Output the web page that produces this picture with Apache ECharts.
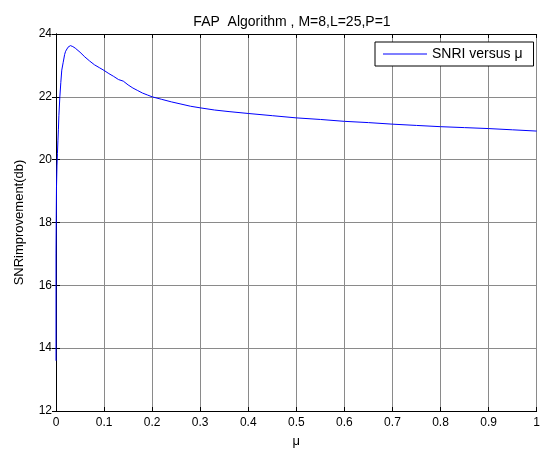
<!DOCTYPE html>
<html>
<head>
<meta charset="utf-8">
<script src="https://cdn.jsdelivr.net/npm/echarts@6/dist/echarts.min.js"></script>
<style>
  html, body { margin: 0; padding: 0; background: #fff; }
  #chart { width: 543px; height: 453px; }
</style>
</head>
<body>
<div id="chart"></div>
<script>
// Step size mu and the resulting SNR improvement (dB)
const mu = [0, 0, 0.0005, 0.001, 0.002, 0.003, 0.004, 0.005, 0.006, 0.008, 0.010, 0.012,
  0.015, 0.018, 0.020, 0.025, 0.030, 0.035, 0.040, 0.050, 0.060, 0.070, 0.080, 0.090,
  0.100, 0.110, 0.120, 0.130, 0.140, 0.150, 0.160, 0.170, 0.180, 0.190, 0.200, 0.220,
  0.240, 0.260, 0.280, 0.300, 0.330, 0.360, 0.400, 0.450, 0.500, 0.550, 0.600, 0.650,
  0.700, 0.750, 0.800, 0.850, 0.900, 0.950, 1.000];
const snri = [13.6, 17.0, 18.2, 19.1, 19.8, 20.2, 20.6, 20.95, 21.4, 22.0, 22.45, 22.85,
  23.1, 23.35, 23.45, 23.58, 23.63, 23.6, 23.55, 23.42, 23.27, 23.14, 23.02, 22.93,
  22.84, 22.74, 22.65, 22.55, 22.5, 22.38, 22.28, 22.2, 22.12, 22.06, 22.0, 21.92,
  21.84, 21.77, 21.7, 21.65, 21.58, 21.53, 21.47, 21.4, 21.33, 21.28, 21.22, 21.18,
  21.13, 21.09, 21.05, 21.02, 20.99, 20.95, 20.91];
const xTicks = ['0', '0.1', '0.2', '0.3', '0.4', '0.5', '0.6', '0.7', '0.8', '0.9', '1'];
const yTicks = [12, 14, 16, 18, 20, 22, 24];

const font = 'Liberation Sans, Arial, sans-serif';
const points = mu.map((m, i) => [m, snri[i]]);

const chart = echarts.init(document.getElementById('chart'), null, { renderer: 'canvas' });

// Mirrored axes on the top and right close the box and carry inward ticks
const boxAxis = {
  axisLine: { show: true, lineStyle: { color: '#000', width: 1 } },
  axisTick: { show: true, inside: true, length: 4, lineStyle: { color: '#000' } },
  axisLabel: { show: false },
  splitLine: { show: false }
};

chart.setOption({
  animation: false,
  backgroundColor: '#fff',
  title: {
    text: 'FAP  Algorithm , M=8,L=25,P=1',
    left: 287, top: 10, textAlign: 'center',
    textStyle: { fontFamily: font, fontSize: 14, fontWeight: 'normal', color: '#000' }
  },
  grid: { left: 56, right: 6, top: 34, bottom: 42, containLabel: false },
  legend: {
    left: 375, top: 42,
    padding: [5, 11, 5, 8],
    backgroundColor: '#fff',
    borderColor: '#000', borderWidth: 1, borderRadius: 0,
    icon: 'rect', itemWidth: 44, itemHeight: 1,
    textStyle: { fontFamily: font, fontSize: 14, color: '#000' },
    data: ['SNRI versus \u03bc']
  },
  xAxis: [{
    type: 'value', min: 0, max: 1, interval: 0.1,
    name: '\u03bc', nameLocation: 'middle', nameGap: 24,
    nameTextStyle: { fontFamily: font, fontSize: 13, color: '#000' },
    axisLine: { show: true, onZero: false, lineStyle: { color: '#000', width: 1 } },
    axisTick: { show: true, inside: true, length: 4, lineStyle: { color: '#000' } },
    axisLabel: {
      fontFamily: font, fontSize: 12, color: '#000', margin: 6,
      formatter: v => xTicks[Math.round(v * 10)]
    },
    splitLine: { show: true, lineStyle: { color: '#8a8a8a', width: 1 } }
  }, Object.assign({ type: 'value', position: 'top', min: 0, max: 1, interval: 0.1 }, boxAxis)],
  yAxis: [{
    type: 'value', min: yTicks[0], max: yTicks[yTicks.length - 1], interval: 2,
    name: 'SNRimprovement(db)', nameLocation: 'middle', nameGap: 30,
    nameTextStyle: { fontFamily: font, fontSize: 13, color: '#000' },
    axisLine: { show: true, onZero: false, lineStyle: { color: '#000', width: 1 } },
    axisTick: { show: true, inside: true, length: 4, lineStyle: { color: '#000' } },
    axisLabel: { fontFamily: font, fontSize: 12, color: '#000', margin: 4 },
    splitLine: { show: true, lineStyle: { color: '#8a8a8a', width: 1 } }
  }, Object.assign({ type: 'value', position: 'right', min: 12, max: 24, interval: 2 }, boxAxis)],
  series: [{
    name: 'SNRI versus \u03bc',
    type: 'line',
    data: points,
    showSymbol: false,
    smooth: false,
    lineStyle: { color: '#0000ff', width: 1 },
    itemStyle: { color: '#0000ff' },
    z: 5
  }]
});
</script>
</body>
</html>
